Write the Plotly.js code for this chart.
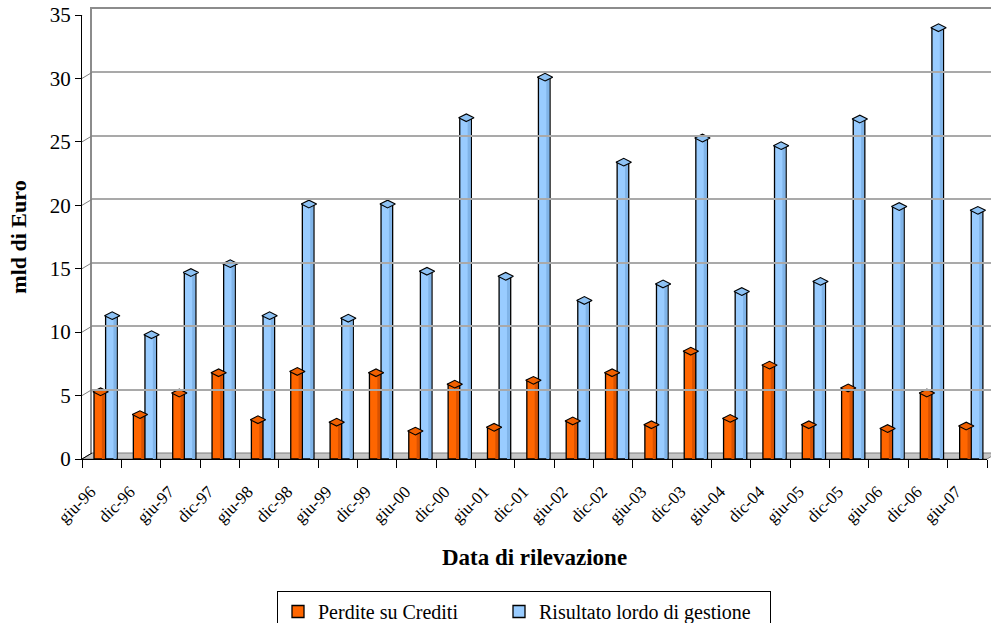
<!DOCTYPE html>
<html>
<head>
<meta charset="utf-8">
<script src="https://cdn.plot.ly/plotly-3.0.1.min.js"></script>
<style>
  html, body { margin: 0; padding: 0; background: #ffffff; }
  #chart { width: 991px; height: 623px; }
</style>
</head>
<body>
<div id="chart"></div>
<script>
// Semestral survey dates
const categories = ['giu-96', 'dic-96', 'giu-97', 'dic-97', 'giu-98', 'dic-98', 'giu-99', 'dic-99',
  'giu-00', 'dic-00', 'giu-01', 'dic-01', 'giu-02', 'dic-02', 'giu-03', 'dic-03',
  'giu-04', 'dic-04', 'giu-05', 'dic-05', 'giu-06', 'dic-06', 'giu-07'];

// Loan losses (bn euro)
const perditeSuCrediti = [5.3, 3.5, 5.2, 6.8, 3.1, 6.9, 2.9, 6.8, 2.2, 5.9, 2.5, 6.2,
  3.0, 6.8, 2.7, 8.5, 3.2, 7.4, 2.7, 5.6, 2.4, 5.2, 2.6];

// Gross operating result (bn euro)
const risultatoLordo = [11.3, 9.8, 14.7, 15.4, 11.3, 20.1, 11.1, 20.1, 14.8, 26.9, 14.4, 30.1,
  12.5, 23.4, 13.8, 25.3, 13.2, 24.7, 14.0, 26.8, 19.9, 34.0, 19.6];

const seriesNames = ['Perdite su Crediti', 'Risultato lordo di gestione'];
const yTickValues = [0, 5, 10, 15, 20, 25, 30, 35];

// category slots on a linear axis: one unit per survey date
const slot = categories.map((_, i) => i);
const slotEdges = categories.map((_, i) => i - 0.5).concat([categories.length - 0.5]);
const LABEL_SHIFT = 0.28;          // rotated labels sit a little left of the slot centre

// ---- geometry of the pseudo-3D frame (pixels) ----
const W = 991, H = 623;
const M = { l: 82, r: 0, t: 9, b: 164, autoexpand: false };
const PW = W - M.l - M.r;          // paper width
const PH = H - M.t - M.b;          // paper height
const DX = 10, DY = 6;             // depth offset of the back wall
const frontRight = 987;
const px = x => (x - M.l) / PW;
const py = y => (H - M.b - y) / PH;

const FONT = 'Liberation Serif, Times New Roman, serif';

const BAR_W = 0.295;
const SIDE_W = 0.075;
const OFFS = [-0.195, 0.1];
const COLORS = ['#FF6600', '#99CCFF'];
const SIDE_COLORS = ['#D95200', '#80B4E8'];
const CAP_COLORS = ['#F06000', '#8EC2F4'];

function barTrace(i, values) {
  return {
    type: 'bar', name: seriesNames[i], x: slot, y: values,
    customdata: categories, hovertemplate: '%{customdata}: %{y}<extra></extra>',
    offset: OFFS[i], width: BAR_W, legendwidth: i === 0 ? 176 : 226,
    marker: { color: COLORS[i], line: { color: '#000000', width: 1.3 } }
  };
}
// darker right-hand face of each column, for the cylinder look
function sideTrace(i, values) {
  return {
    type: 'bar', x: slot, y: values.map(v => Math.max(v - 0.12, 0)),
    offset: OFFS[i] + BAR_W - SIDE_W - 0.02, width: SIDE_W,
    marker: { color: SIDE_COLORS[i], line: { width: 0 } },
    showlegend: false, hoverinfo: 'skip'
  };
}
// flattened cap on top of each column
function capTrace(i, values) {
  return {
    type: 'scatter', mode: 'markers',
    x: slot.map(s => s + OFFS[i] + BAR_W / 2 + 0.02), y: values,
    marker: { symbol: 'diamond-wide', size: 11, color: CAP_COLORS[i],
              line: { color: '#000000', width: 1.1 } },
    showlegend: false, hoverinfo: 'skip', cliponaxis: false
  };
}

const traces = [
  barTrace(0, perditeSuCrediti),
  barTrace(1, risultatoLordo),
  sideTrace(0, perditeSuCrediti),
  sideTrace(1, risultatoLordo),
  capTrace(0, perditeSuCrediti),
  capTrace(1, risultatoLordo),
  // empty trace so the back-wall subplot is created
  { type: 'scatter', x: [], y: [], xaxis: 'x2', yaxis: 'y2', showlegend: false, hoverinfo: 'skip' }
];

const shapes = [];
// floor
shapes.push({
  type: 'path', xref: 'paper', yref: 'paper', layer: 'between',
  path: `M ${px(M.l)} ${py(H - M.b)} L ${px(frontRight)} ${py(H - M.b)} L ${px(frontRight + DX)} ${py(H - M.b - DY)} L ${px(M.l + DX)} ${py(H - M.b - DY)} Z`,
  fillcolor: '#c6c6c6', line: { color: '#7f7f7f', width: 1 }
});
// diagonal connectors from the front axis ticks to the back wall
yTickValues.forEach(v => {
  shapes.push({
    type: 'line', xref: 'paper', yref: 'y', layer: 'above',
    xsizemode: 'pixel', xanchor: 0, x0: 0, x1: DX,
    ysizemode: 'pixel', yanchor: v, y0: 0, y1: DY,
    line: { color: v === 0 ? '#000000' : '#808080', width: 1 }
  });
});

const layout = {
  width: W, height: H,
  margin: M,
  paper_bgcolor: '#ffffff', plot_bgcolor: 'rgba(0,0,0,0)',
  font: { family: FONT, color: '#000000', size: 16 },
  barmode: 'overlay',
  showlegend: true,
  xaxis: {
    domain: [0, px(frontRight)], type: 'linear', range: [-0.5, categories.length - 0.5],
    tickmode: 'array', tickvals: slot.map(i => i - LABEL_SHIFT), ticktext: categories,
    ticks: '', ticklabelstandoff: 15,
    minor: { tickmode: 'array', tickvals: slotEdges, ticks: 'outside', ticklen: 8,
             tickcolor: '#000000', tickwidth: 1, showgrid: false },
    showline: true, linecolor: '#000000', linewidth: 1, showgrid: false, zeroline: false,
    tickangle: -45, tickfont: { family: FONT, size: 17 },
    automargin: false,
    title: { text: 'Data di rilevazione', font: { family: FONT, size: 23, weight: 'bold' }, standoff: 22 },
    fixedrange: true
  },
  yaxis: {
    domain: [0, (PH - DY) / PH], range: [0, 35], tickvals: yTickValues,
    ticks: 'outside', ticklen: 6, tickcolor: '#000000', showline: true, linecolor: '#000000',
    linewidth: 1, showgrid: false, zeroline: false, tickfont: { family: FONT, size: 21 },
    ticklabelstandoff: 0, automargin: false,
    title: { text: 'mld di Euro', font: { family: FONT, size: 22, weight: 'bold' }, standoff: 17 },
    fixedrange: true
  },
  xaxis2: {
    domain: [px(M.l + DX), 1], anchor: 'y2', range: [0, 1], side: 'top',
    showticklabels: false, ticks: '', showgrid: false, zeroline: false,
    showline: true, linecolor: '#8c8c8c', linewidth: 2, fixedrange: true
  },
  yaxis2: {
    domain: [DY / PH, 1], anchor: 'x2', range: [0, 35], tickvals: yTickValues,
    showticklabels: false, ticks: '', showgrid: true, gridcolor: '#a9a9a9', gridwidth: 2,
    showline: true, linecolor: '#8c8c8c', linewidth: 2, zeroline: false, fixedrange: true
  },
  legend: {
    orientation: 'h', x: px(277), xanchor: 'left', y: py(591), yanchor: 'top',
    bordercolor: '#000000', borderwidth: 1, bgcolor: '#ffffff',
    font: { family: FONT, size: 20 }, itemwidth: 30,
    traceorder: 'normal'
  },
  shapes: shapes
};

Plotly.newPlot('chart', traces, layout, { displayModeBar: false, staticPlot: true });
</script>
</body>
</html>
